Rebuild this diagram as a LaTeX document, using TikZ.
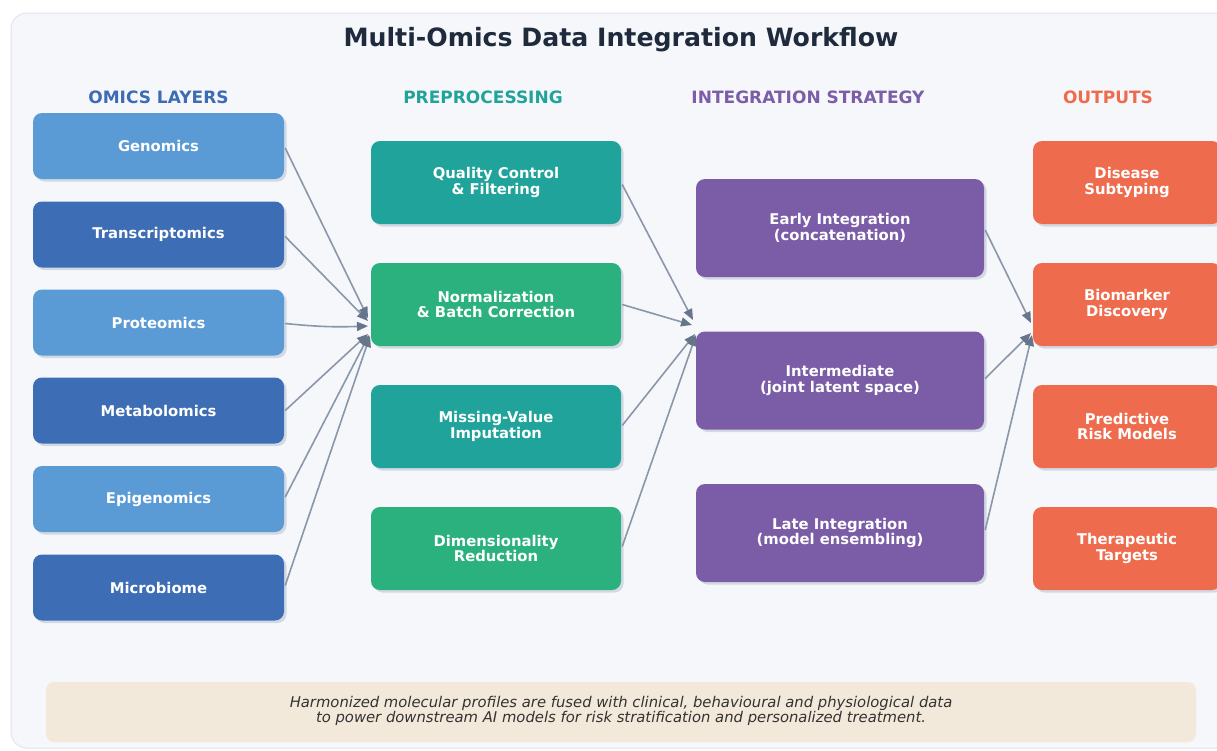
\documentclass[tikz,border=0pt]{standalone}
\usepackage{fontspec}
\setmainfont{DejaVu Sans}
\usetikzlibrary{arrows.meta,calc,shadows}
\definecolor{bgc}{HTML}{F5F7FB}
\definecolor{bgborder}{HTML}{E1E5EC}
\definecolor{titlec}{HTML}{1F2A3D}
\definecolor{omicsA}{HTML}{5B9BD5}
\definecolor{omicsB}{HTML}{3D6DB5}
\definecolor{preT}{HTML}{20A39A}
\definecolor{preG}{HTML}{2BB17E}
\definecolor{integc}{HTML}{7B5CA7}
\definecolor{outc}{HTML}{EE6B4D}
\definecolor{notebg}{HTML}{F3E9DB}
\definecolor{notetext}{HTML}{333333}
\definecolor{arrowc}{HTML}{8A96A9}
\definecolor{arrowhd}{HTML}{66758C}
\definecolor{shadowc}{HTML}{D3D9E3}
\definecolor{hOmics}{HTML}{3D6CB4}
\definecolor{hPre}{HTML}{22A39A}
\definecolor{hInt}{HTML}{7B5EA7}
\definecolor{hOut}{HTML}{EE6C4D}
\tikzset{
  boxbase/.style={rounded corners=9pt, text=white, align=center, inner sep=0pt,
    font=\fontsize{14.8}{15.5}\selectfont\bfseries,
    drop shadow={shadow xshift=2.5pt, shadow yshift=-2.5pt, fill=shadowc, opacity=1}},
  omicsbox/.style={boxbase, minimum width=251pt, minimum height=66pt},
  prebox/.style={boxbase, minimum width=250pt, minimum height=83pt},
  intbox/.style={boxbase, minimum width=288pt, minimum height=98pt},
  outbox/.style={boxbase, minimum width=188pt, minimum height=83pt},
  header/.style={font=\fontsize{17}{20}\selectfont\bfseries},
  arr/.style={draw=arrowc, line width=1.6pt,
    -{Triangle[length=11pt,width=9pt,color=arrowhd,fill=arrowhd]}}
}
\begin{document}
\begin{tikzpicture}[x=1pt,y=-1pt]
\useasboundingbox (0,0) rectangle (1217,750);
\fill[white] (0,0) rectangle (1217,750);
\draw[fill=bgc, draw=bgborder, line width=1pt, rounded corners=16pt] (11,13) rectangle (1240,748);

\node[font=\fontsize{25.2}{29}\selectfont\bfseries, text=titlec] (title) at (621,40) {Multi-Omics Data Integration Workflow};

\node[header, text=hOmics] (h1) at (158.5,97) {OMICS LAYERS};
\node[header, text=hPre] (h2) at (483,97) {PREPROCESSING};
\node[header, text=hInt] (h3) at (808,97) {INTEGRATION STRATEGY};
\node[header, text=hOut] (h4) at (1108,97) {OUTPUTS};

% omics
\node[omicsbox, fill=omicsA] (gen) at (158.5,146) {Genomics};
\node[omicsbox, fill=omicsB] (tra) at (158.5,234.5) {Transcriptomics};
\node[omicsbox, fill=omicsA] (pro) at (158.5,322.5) {Proteomics};
\node[omicsbox, fill=omicsB] (met) at (158.5,410.5) {Metabolomics};
\node[omicsbox, fill=omicsA] (epi) at (158.5,499) {Epigenomics};
\node[omicsbox, fill=omicsB] (mic) at (158.5,587.5) {Microbiome};

% preprocessing
\node[prebox, fill=preT] (qc) at (496,182.5) {Quality Control\\\& Filtering};
\node[prebox, fill=preG] (norm) at (496,304.5) {Normalization\\\& Batch Correction};
\node[prebox, fill=preT] (miss) at (496,426.5) {Missing-Value\\Imputation};
\node[prebox, fill=preG] (dim) at (496,548.5) {Dimensionality\\Reduction};

% integration
\node[intbox, fill=integc] (early) at (840,228) {Early Integration\\(concatenation)};
\node[intbox, fill=integc] (inter) at (840,380.5) {Intermediate\\(joint latent space)};
\node[intbox, fill=integc] (late) at (840,533) {Late Integration\\(model ensembling)};

% outputs
\node[outbox, fill=outc] (dis) at (1127,182.5) {Disease\\Subtyping};
\node[outbox, fill=outc] (bio) at (1127,304.5) {Biomarker\\Discovery};
\node[outbox, fill=outc] (pred) at (1127,426.5) {Predictive\\Risk Models};
\node[outbox, fill=outc] (ther) at (1127,548.5) {Therapeutic\\Targets};

% arrow targets
\coordinate (n1) at (368,318);
\coordinate (n2) at (368,321);
\coordinate (n3) at (368,326);
\coordinate (n4) at (368,334);
\coordinate (n5) at (369,335);
\coordinate (n6) at (370,336);
\coordinate (i1) at (693,320);
\coordinate (i2) at (692,325);
\coordinate (i3) at (695,334);
\coordinate (i4) at (696,335);
\coordinate (b1) at (1031,323);
\coordinate (b2) at (1031,333);
\coordinate (b3) at (1032,335);

\draw[arr] ($(gen.east)+(1,2)$) -- (n1);
\draw[arr] ($(tra.east)+(1,2)$) -- (n2);
\draw[arr] ($(pro.east)+(1,1)$) to[bend right=4] (n3);
\draw[arr] ($(met.east)+(1,0)$) -- (n4);
\draw[arr] ($(epi.east)+(1,-2)$) -- (n5);
\draw[arr] ($(mic.east)+(1,-2)$) -- (n6);

\draw[arr] ($(qc.east)+(1,2)$) -- (i1);
\draw[arr] ($(norm.east)+(1,0)$) -- (i2);
\draw[arr] ($(miss.east)+(1,-1)$) -- (i3);
\draw[arr] ($(dim.east)+(1,-2)$) -- (i4);

\draw[arr] ($(early.east)+(1,2)$) -- (b1);
\draw[arr] ($(inter.east)+(1,-2)$) -- (b2);
\draw[arr] ($(late.east)+(1,-3)$) -- (b3);

% note
\fill[notebg, rounded corners=8pt] (46,682) rectangle (1196,742);
\node[font=\fontsize{14.8}{15.8}\selectfont\itshape, text=notetext, align=center] (note) at (621,711) {Harmonized molecular profiles are fused with clinical, behavioural and physiological data\\to power downstream AI models for risk stratification and personalized treatment.};
\end{tikzpicture}
\end{document}
